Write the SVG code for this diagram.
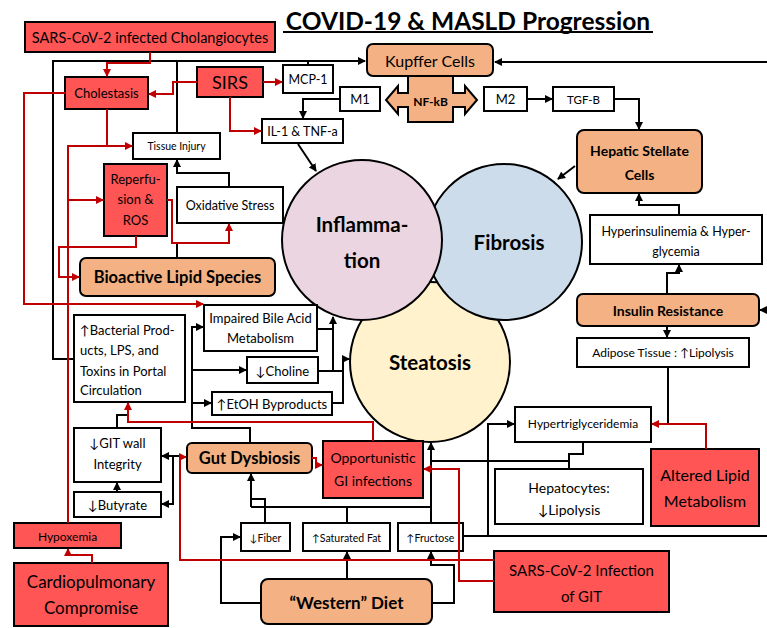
<svg xmlns="http://www.w3.org/2000/svg" width="767" height="628" viewBox="0 0 767 628">
<defs>
<style>
.t{font-family:Lato,"Liberation Sans",sans-serif;fill:#000;text-anchor:middle;dominant-baseline:central}
.s{text-anchor:start}
.b{font-weight:bold}
.red{fill:#FF5555;stroke:#000;stroke-width:2}
.org{fill:#F4B183;stroke:#000;stroke-width:2}
.wht{fill:#fff;stroke:#000;stroke-width:2}
.k{fill:none;stroke:#000;stroke-width:2;stroke-linejoin:miter}
.r{fill:none;stroke:#C00000;stroke-width:2;stroke-linejoin:miter}
.ka{marker-end:url(#ak)}
.ra{marker-end:url(#ar)}
</style>
<marker id="ak" markerUnits="userSpaceOnUse" markerWidth="8" markerHeight="8" refX="7" refY="4" orient="auto"><path d="M0,0 L8,4 L0,8 z" fill="#000"/></marker>
<marker id="ar" markerUnits="userSpaceOnUse" markerWidth="8" markerHeight="8" refX="7" refY="4" orient="auto"><path d="M0,0 L8,4 L0,8 z" fill="#C00000"/></marker>
</defs>
<rect width="767" height="628" fill="#fff"/>

<g id="title">
<text class="t b" x="468" y="20" font-size="24.5">COVID-19 &amp; MASLD Progression</text>
<line x1="283" y1="32" x2="653" y2="32" stroke="#000" stroke-width="2"/>
</g>

<g id="circles">
<g id="steatosis"><circle cx="430" cy="362" r="80" fill="#FFF2CC" stroke="#000" stroke-width="2"/><text class="t b" x="430" y="362" font-size="20.5">Steatosis</text></g>
<g id="fibrosis"><circle cx="504" cy="242" r="78" fill="#CCDCEA" stroke="#000" stroke-width="2"/><text class="t b" x="509" y="242" font-size="20.5">Fibrosis</text></g>
<g id="inflammation"><circle cx="362" cy="240" r="80" fill="#EAD5E0" stroke="#000" stroke-width="2"/><text class="t b" x="362" y="224" font-size="20.5">Inflamma-</text><text class="t b" x="362" y="260" font-size="20.5">tion</text></g>
</g>

<g id="nodes">
<g id="cholangiocytes"><rect class="red" x="25" y="22" width="250" height="30"/><text class="t" x="150" y="37" font-size="14.5">SARS-CoV-2 infected Cholangiocytes</text></g>
<g id="cholestasis"><rect class="red" x="65" y="77" width="83" height="32"/><text class="t" x="106.5" y="93" font-size="13">Cholestasis</text></g>
<g id="sirs"><rect class="red" x="197" y="67" width="66" height="30"/><text class="t" x="230" y="82" font-size="18">SIRS</text></g>
<g id="mcp1"><rect class="wht" x="283" y="65" width="50" height="28"/><text class="t" x="308" y="79" font-size="12.5">MCP-1</text></g>
<g id="il1"><rect class="wht" x="262" y="119" width="81" height="24"/><text class="t" x="302.5" y="131" font-size="12.5">IL-1 &amp; TNF-a</text></g>
<g id="tissueinjury"><rect class="wht" x="133" y="133" width="87" height="26"/><text class="t" x="176.5" y="146" font-size="10.5">Tissue Injury</text></g>
<g id="nfkb"><polygon class="org" points="408,74 453,74 453,93 465,93 465,86 477,100 465,114 465,107 453,107 453,122 408,122 408,107 398,107 398,114 386,100 398,86 398,93 408,93"/><text class="t b" x="430.5" y="101" font-size="12">NF-kB</text></g>
<g id="kupffer"><rect class="org" x="367" y="44" width="126" height="32" rx="6"/><text class="t" x="430" y="60" font-size="16">Kupffer Cells</text></g>
<g id="m1"><rect class="wht" x="340" y="87" width="40" height="24"/><text class="t" x="360" y="99" font-size="13">M1</text></g>
<g id="m2"><rect class="wht" x="484" y="87" width="43" height="24"/><text class="t" x="505.5" y="99" font-size="13">M2</text></g>
<g id="tgfb"><rect class="wht" x="553" y="87" width="61" height="24"/><text class="t" x="583.5" y="99" font-size="11.5">TGF-B</text></g>
<g id="hsc"><rect class="org" x="577" y="130" width="125" height="63" rx="7"/><text class="t b" x="639.5" y="150" font-size="14">Hepatic Stellate</text><text class="t b" x="639.5" y="174" font-size="14">Cells</text></g>
<g id="reperfusion"><rect class="red" x="104" y="164" width="63" height="72"/><text class="t" x="135.5" y="179" font-size="13">Reperfu-</text><text class="t" x="135.5" y="199" font-size="13">sion &amp;</text><text class="t" x="135.5" y="220" font-size="13">ROS</text></g>
<g id="oxidative"><rect class="wht" x="177" y="187" width="106" height="36"/><text class="t" x="230" y="205.5" font-size="12.5">Oxidative Stress</text></g>
<g id="bioactive"><rect class="org" x="80" y="258" width="195" height="38" rx="6"/><text class="t b" x="177.5" y="277" font-size="16.5">Bioactive Lipid Species</text></g>
<g id="hyperinsulinemia"><rect class="wht" x="590" y="215" width="172" height="49"/><text class="t" x="676" y="231" font-size="12.5">Hyperinsulinemia &amp; Hyper-</text><text class="t" x="676" y="251" font-size="12.5">glycemia</text></g>
<g id="insulinresistance"><rect class="org" x="577" y="294" width="182" height="32" rx="6"/><text class="t b" x="668" y="310" font-size="14">Insulin Resistance</text></g>
<g id="adipose"><rect class="wht" x="577" y="338" width="172" height="29"/><text class="t" x="663" y="352.5" font-size="12">Adipose Tissue : ↑Lipolysis</text></g>
<g id="bacterial"><rect class="wht" x="74" y="315" width="111" height="87"/>
<text class="t s" x="80" y="330" font-size="13">↑Bacterial Prod-</text>
<text class="t s" x="80" y="350" font-size="13">ucts, LPS, and</text>
<text class="t s" x="80" y="371" font-size="13">Toxins in Portal</text>
<text class="t s" x="80" y="390" font-size="13">Circulation</text></g>
<g id="bileacid"><rect class="wht" x="204" y="305" width="113" height="46"/><text class="t" x="260.5" y="318" font-size="13">Impaired Bile Acid</text><text class="t" x="260.5" y="338" font-size="13">Metabolism</text></g>
<g id="choline"><rect class="wht" x="247" y="357" width="71" height="26"/><text class="t" x="282.5" y="371" font-size="13">↓Choline</text></g>
<g id="etoh"><rect class="wht" x="212" y="392" width="120" height="23"/><text class="t" x="272" y="404" font-size="13">↑EtOH Byproducts</text></g>
<g id="gitwall"><rect class="wht" x="74" y="428" width="87" height="54"/><text class="t" x="117.5" y="443" font-size="13">↓GIT wall</text><text class="t" x="117.5" y="464" font-size="13">Integrity</text></g>
<g id="butyrate"><rect class="wht" x="74" y="492" width="87" height="25"/><text class="t" x="117.5" y="505" font-size="13">↓Butyrate</text></g>
<g id="hypoxemia"><rect class="red" x="14" y="523" width="107" height="25"/><text class="t" x="67.5" y="536" font-size="12">Hypoxemia</text></g>
<g id="cardiopulmonary"><rect class="red" x="14" y="563" width="154" height="63"/><text class="t" x="91" y="581" font-size="17">Cardiopulmonary</text><text class="t" x="91" y="607" font-size="17">Compromise</text></g>
<g id="gutdysbiosis"><rect class="org" x="187" y="443" width="125" height="30" rx="5"/><text class="t b" x="249.5" y="458" font-size="16.5">Gut Dysbiosis</text></g>
<g id="opportunistic"><rect class="red" x="323" y="441" width="100" height="57"/><text class="t" x="373" y="457" font-size="14">Opportunistic</text><text class="t" x="373" y="480" font-size="14">GI infections</text></g>
<g id="fiber"><rect class="wht" x="241" y="523" width="49" height="28"/><text class="t" x="265.5" y="537.5" font-size="10.5">↓Fiber</text></g>
<g id="satfat"><rect class="wht" x="303" y="523" width="87" height="28"/><text class="t" x="346.5" y="537.5" font-size="10.5">↑Saturated Fat</text></g>
<g id="fructose"><rect class="wht" x="398" y="523" width="65" height="28"/><text class="t" x="430.5" y="537.5" font-size="10.5">↑Fructose</text></g>
<g id="westerndiet"><rect class="org" x="261" y="579" width="171" height="45" rx="7"/><text class="t b" x="346.5" y="602" font-size="17">“Western” Diet</text></g>
<g id="sarsgit"><rect class="red" x="494" y="551" width="175" height="61"/><text class="t" x="581.5" y="570" font-size="15">SARS-CoV-2 Infection</text><text class="t" x="581.5" y="596" font-size="15">of GIT</text></g>
<g id="hypertriglyceridemia"><rect class="wht" x="515" y="407" width="136" height="35"/><text class="t" x="583" y="423" font-size="12">Hypertriglyceridemia</text></g>
<g id="hepatocytes"><rect class="wht" x="495" y="469" width="148" height="55"/><text class="t" x="569" y="487" font-size="14">Hepatocytes:</text><text class="t" x="569" y="509" font-size="14">↓Lipolysis</text></g>
<g id="alteredlipid"><rect class="red" x="651" y="449" width="108" height="77"/><text class="t" x="705" y="474" font-size="16">Altered Lipid</text><text class="t" x="705" y="500" font-size="16">Metabolism</text></g>
</g>

<g id="connectors">
<path class="k ka" d="M74,359 H53 V61 H365"/>
<path class="k" d="M177,61 V133 M308,61 V65"/>
<path class="k ka" d="M767,62 H495"/>
<path class="k ka" d="M340,99 H303 V118"/>
<path class="k ka" d="M527,99 H552"/>
<path class="k ka" d="M614,99 H639 V129"/>
<path class="k ka" d="M575,166 L558,179"/>
<path class="k ka" d="M679,215 V205 H639 V194"/>
<path class="k ka" d="M667,294 V273 H679 V265"/>
<path class="k ka" d="M667,326 V337"/>
<path class="k" d="M668,367 V424"/>
<path class="k ka" d="M767,310 H760"/>
<path class="k" d="M463,536 H767"/>
<path class="k ka" d="M488,536 V424 H514"/>
<path class="k" d="M583,442 V454 H569 V469 M569,461 H431"/>
<path class="k ka" d="M431,523 V443"/>
<path class="k ka" d="M298,144 L316,171"/>
<path class="k ka" d="M229,187 V173 H177 V160"/>
<path class="k" d="M177,258 V243"/>
<path class="k ka" d="M250,443 V428 H192 V327 H203"/>
<path class="k ka" d="M192,370 H246"/>
<path class="k ka" d="M192,403 H211"/>
<path class="k" d="M317,329 H333 M318,371 H343"/>
<path class="k ka" d="M333,371 V317"/>
<path class="k ka" d="M332,403 H343 V359 H349"/>
<path class="k ka" d="M180,456 H162"/>
<path class="k ka" d="M173,456 V504 H162"/>
<path class="k ka" d="M117,492 V483"/>
<path class="k" d="M117,428 V415 H128"/>
<path class="k ka" d="M251,507 V474"/>
<path class="k" d="M251,507 H431 M347,523 V507 M265,523 V499 H251"/>
<path class="k ka" d="M261,603 H221 V537 H240"/>
<path class="k ka" d="M347,579 V552"/>
<path class="k ka" d="M432,603 H454 V565 H431 V552"/>

<path class="r ra" d="M150,52 V63 H107 V76"/>
<path class="r ra" d="M197,82 H173 V94 H149"/>
<path class="r ra" d="M263,82 H282"/>
<path class="r ra" d="M230,97 V131 H261"/>
<path class="r ra" d="M107,109 V146 H132"/>
<path class="r" d="M107,146 H68 V523"/>
<path class="r ra" d="M68,200 H103"/>
<path class="r ra" d="M65,93 H24 V304 H203"/>
<path class="r ra" d="M136,236 V247 H59 V277 H79"/>
<path class="r ra" d="M167,200 H172 V243 H229 V224"/>
<path class="r ra" d="M373,441 V422 H128 V403"/>
<path class="r ra" d="M494,560 H180 V457 H186"/>
<path class="r ra" d="M494,581 H459 V469 H424"/>
<path class="r ra" d="M312,458 H316 V465 H322"/>
<path class="r ra" d="M92,563 V555 H68 V549"/>
<path class="r ra" d="M706,449 V424 H652"/>
</g>
</svg>
